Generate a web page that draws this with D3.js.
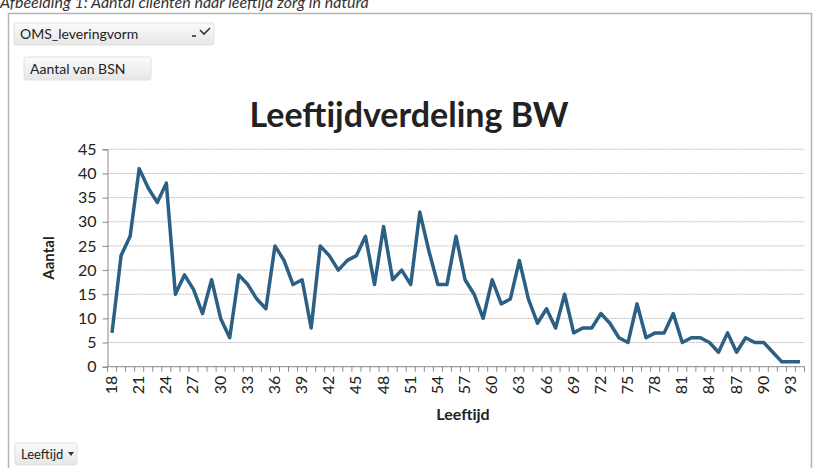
<!DOCTYPE html>
<html>
<head>
<meta charset="utf-8">
<script src="https://cdn.jsdelivr.net/npm/d3@7"></script>
<style>
  body { margin: 0; background: #fff; }
  svg { display: block; font-family: Lato, "Open Sans", sans-serif; }
</style>
</head>
<body>
<svg width="817" height="468"></svg>
<script>
// leeftijden 18..94
let ages = d3.range(18, 95);
let aantal = [
  7, 23, 27, 41, 37, 34, 38, 15, 19, 16,   // 18-27
  11, 18, 10, 6, 19, 17, 14, 12, 25, 22,   // 28-37
  17, 18, 8, 25, 23, 20, 22, 23, 27, 17,   // 38-47
  29, 18, 20, 17, 32, 24, 17, 17, 27, 18,  // 48-57
  15, 10, 18, 13, 14, 22, 14, 9, 12, 8,    // 58-67
  15, 7, 8, 8, 11, 9, 6, 5, 13, 6,         // 68-77
  7, 7, 11, 5, 6, 6, 5, 3, 7, 3,           // 78-87
  6, 5, 5, 3, 1, 1, 1                      // 88-94
];
let yTicks = [0, 5, 10, 15, 20, 25, 30, 35, 40, 45];
let xLabels = ages.filter((d, i) => i % 3 == 0);

let data = ages.map((a, i) => ({age: a, n: aantal[i]}));

let svg = d3.select('svg');

// caption, staat half buiten beeld zoals in het origineel
svg.append('text')
  .attr('x', 0).attr('y', 8)
  .style('font-style', 'italic')
  .style('font-size', '16px')
  .style('fill', '#333')
  .text('Afbeelding 1: Aantal cliënten naar leeftijd zorg in natura');

// kader van de pivot chart
svg.append('path')
  .attr('d', 'M8.5,470V13.5H811.5V470')
  .style('fill', 'none')
  .style('stroke', '#b5b5b5')
  .style('stroke-width', '1.5px');

let defs = svg.append('defs');
let grad = defs.append('linearGradient').attr('id', 'btn').attr('x1', 0).attr('x2', 0).attr('y1', 0).attr('y2', 1);
grad.append('stop').attr('offset', '0%').attr('stop-color', '#fbfbfb');
grad.append('stop').attr('offset', '100%').attr('stop-color', '#e6e6e6');

function button(x, y, w, h, label, fs) {
  let g = svg.append('g').attr('transform', `translate(${x},${y})`);
  g.append('rect')
    .attr('width', w).attr('height', h).attr('rx', 2)
    .style('fill', 'url(#btn)')
    .style('stroke', '#e0e0e0');
  g.append('text')
    .attr('x', 6).attr('y', h / 2 + 5)
    .style('font-size', fs + 'px')
    .style('fill', '#222')
    .text(label);
  return g;
}

let b1 = button(14, 23, 200, 22, 'OMS_leveringvorm', 14);
b1.append('path').attr('d', 'M178,13L182,13').style('stroke', '#333').style('stroke-width', 1.6);
b1.append('path').attr('d', 'M186,7L190,11L196,5').style('fill', 'none').style('stroke', '#333').style('stroke-width', 1.6);

button(24, 57, 127, 23, 'Aantal van BSN', 14);

let b3 = button(15, 443, 62, 22, 'Leeftijd', 13);
b3.append('path').attr('d', 'M53,9L59,9L56,13Z').style('fill', '#333');

// title
svg.append('text')
  .attr('x', 409).attr('y', 127)
  .attr('text-anchor', 'middle')
  .style('font-size', '34px')
  .style('font-weight', 'bold')
  .style('fill', '#222')
  .text('Leeftijdverdeling BW');

let x = d3.scaleBand().domain(ages).range([107.5, 804.5]);
let y = d3.scaleLinear().domain([0, 45]).range([366.7, 149.3]);

// gridlines
svg.append('g')
  .selectAll('line.grid')
  .data(yTicks.filter(d => d > 0))
  .enter()
  .append('line')
  .attr('class', 'grid')
  .attr('x1', x.range()[0]).attr('x2', x.range()[1])
  .attr('y1', d => y(d)).attr('y2', d => y(d))
  .style('stroke', '#bdbdbd')
  .style('stroke-width', '1px')
  .style('stroke-dasharray', '2,1');

// y axis
let yAxis = svg.append('g')
  .attr('transform', `translate(${x.range()[0]},0)`)
  .call(d3.axisLeft(y).tickValues(yTicks).tickSize(5).tickPadding(6));
yAxis.select('.domain').style('stroke', '#888');
yAxis.selectAll('.tick line').style('stroke', '#888');
yAxis.selectAll('.tick text')
  .style('font-size', '16px')
  .style('fill', '#222')
  .style('font-family', 'Lato, sans-serif');

// x axis: ticks tussen categorieën
let xg = svg.append('g');
xg.append('line')
  .attr('x1', x.range()[0]).attr('x2', x.range()[1])
  .attr('y1', y(0)).attr('y2', y(0))
  .style('stroke', '#888');
xg.selectAll('line.xtick')
  .data(ages.concat([null]))
  .enter()
  .append('line')
  .attr('class', 'xtick')
  .attr('x1', d => d == null ? x.range()[1] : x(d))
  .attr('x2', d => d == null ? x.range()[1] : x(d))
  .attr('y1', y(0)).attr('y2', y(0) + 5)
  .style('stroke', '#888');
xg.selectAll('text.xlab')
  .data(xLabels)
  .enter()
  .append('text')
  .attr('class', 'xlab')
  .attr('transform', d => `translate(${x(d) + x.bandwidth() / 2 + 5},${y(0) + 9}) rotate(-90)`)
  .attr('text-anchor', 'end')
  .style('font-size', '16px')
  .style('fill', '#222')
  .text(d => d);

// axis titles
svg.append('text')
  .attr('transform', `translate(54,258) rotate(-90)`)
  .attr('text-anchor', 'middle')
  .style('font-size', '15px')
  .style('font-weight', 'bold')
  .style('fill', '#222')
  .text('Aantal');

svg.append('text')
  .attr('x', 463).attr('y', 420)
  .attr('text-anchor', 'middle')
  .style('font-size', '16px')
  .style('font-weight', 'bold')
  .style('fill', '#222')
  .text('Leeftijd');

// the line
let line = d3.line()
  .x(d => x(d.age) + x.bandwidth() / 2)
  .y(d => y(d.n));

svg.append('path')
  .datum(data)
  .attr('d', line)
  .style('fill', 'none')
  .style('stroke', '#2c5f84')
  .style('stroke-width', '3.5px')
  .style('stroke-linejoin', 'round');
</script>
</body>
</html>
